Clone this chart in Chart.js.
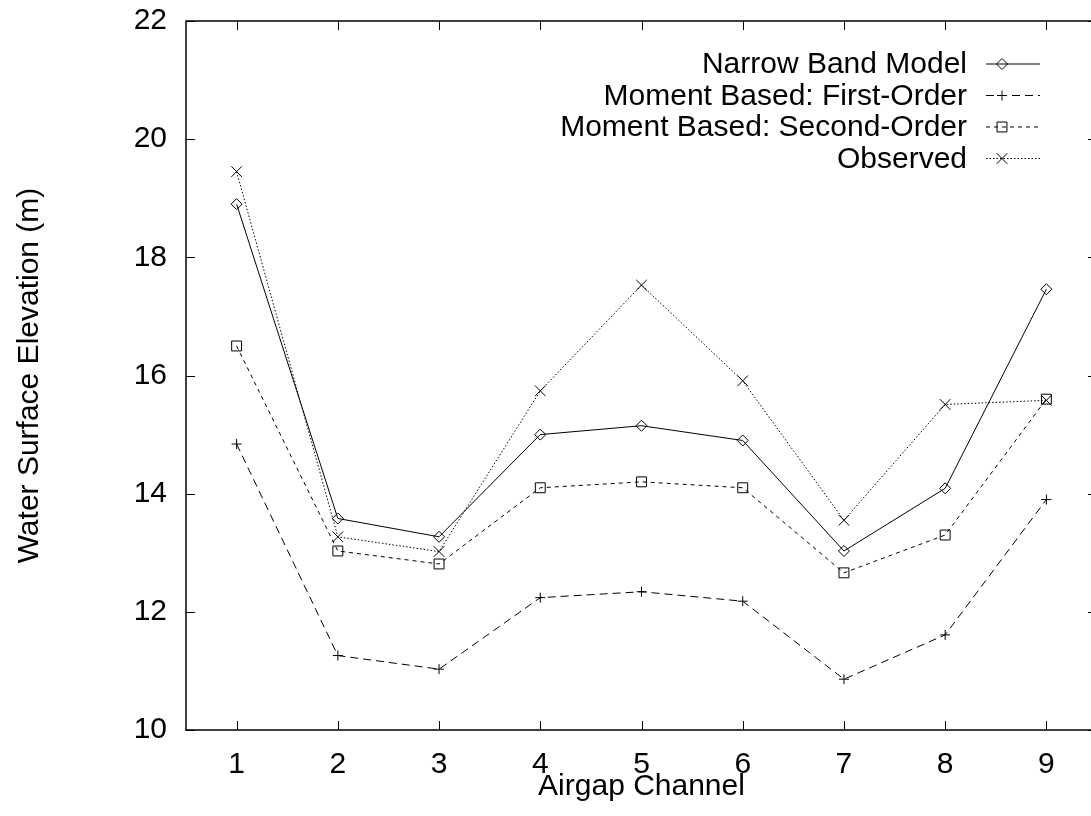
<!DOCTYPE html>
<html>
<head>
<meta charset="utf-8">
<script src="https://cdn.jsdelivr.net/npm/chart.js@4"></script>
<style>
  html, body { margin: 0; padding: 0; background: #fff; overflow: hidden; }
  #wrap { width: 1091px; height: 816px; overflow: hidden; position: relative; }
  #chart { position: absolute; left: 0; top: 0; }
</style>
</head>
<body>
<div id="wrap"><canvas id="chart" width="1100" height="816"></canvas></div>
<script>
// dados
const channels = [1, 2, 3, 4, 5, 6, 7, 8, 9];
const narrowBand = [18.90, 13.58, 13.27, 15.00, 15.15, 14.90, 13.03, 14.09, 17.46];
const firstOrder = [14.84, 11.26, 11.03, 12.24, 12.34, 12.18, 10.86, 11.61, 13.90];
const secondOrder = [16.50, 13.03, 12.81, 14.10, 14.20, 14.10, 12.66, 13.30, 15.60];
const observed = [19.45, 13.27, 13.02, 15.74, 17.53, 15.91, 13.55, 15.51, 15.58];
const xTicks = [1, 2, 3, 4, 5, 6, 7, 8, 9];
const yTicks = [10, 12, 14, 16, 18, 20, 22];
const seriesNames = ['Narrow Band Model', 'Moment Based: First-Order', 'Moment Based: Second-Order', 'Observed'];

const FONT = '"Liberation Sans", Arial, Helvetica, sans-serif';

function pts(values) {
    return channels.map((c, i) => ({ x: c, y: values[i] }));
}

function serie(label, values, dash, style, radius) {
    return {
        label: label,
        data: pts(values),
        borderColor: '#000',
        borderWidth: 1,
        borderDash: dash,
        fill: false,
        tension: 0,
        pointStyle: style,
        pointRadius: radius,
        pointBorderColor: '#000',
        pointBackgroundColor: 'rgba(0,0,0,0)',
        pointBorderWidth: 1
    };
}

// zera o padding automático que o Chart.js coloca por causa dos rótulos
function noPad(s) {
    s.paddingTop = 0;
    s.paddingBottom = 0;
    s.paddingLeft = 0;
    s.paddingRight = 0;
}

// moldura com marcas de escala para dentro (estilo gnuplot)
const framePlugin = {
    id: 'frame',
    afterDraw(chart) {
        const ctx = chart.ctx;
        const a = chart.chartArea;
        const xs = chart.scales.x, ys = chart.scales.y;
        ctx.save();
        ctx.setLineDash([]);
        ctx.strokeStyle = '#000';
        ctx.lineWidth = 1;
        ctx.beginPath();
        xTicks.forEach(v => {
            const px = Math.round(xs.getPixelForValue(v)) + 0.5;
            ctx.moveTo(px, a.bottom); ctx.lineTo(px, a.bottom - 9);
            ctx.moveTo(px, a.top); ctx.lineTo(px, a.top + 9);
        });
        yTicks.forEach(v => {
            const py = Math.round(ys.getPixelForValue(v)) + 0.5;
            ctx.moveTo(a.left, py); ctx.lineTo(a.left + 9, py);
            ctx.moveTo(a.right, py); ctx.lineTo(a.right - 9, py);
        });
        ctx.stroke();
        ctx.lineWidth = 1.5;
        ctx.strokeRect(a.left, a.top, a.right - a.left, a.bottom - a.top);
        ctx.restore();
    }
};

// legenda dentro do gráfico, texto à esquerda da amostra
const legendPlugin = {
    id: 'insideLegend',
    afterDraw(chart) {
        const ctx = chart.ctx;
        const rows = [64, 95.5, 127, 158.5];
        ctx.save();
        ctx.font = '30px ' + FONT;
        ctx.textAlign = 'right';
        ctx.textBaseline = 'middle';
        ctx.fillStyle = '#000';
        chart.data.datasets.forEach((ds, i) => {
            const y = rows[i];
            ctx.fillText(seriesNames[i], 967, y + 1);
            ctx.strokeStyle = '#000';
            ctx.lineWidth = 1;
            ctx.setLineDash(ds.borderDash);
            ctx.beginPath();
            ctx.moveTo(986, y);
            ctx.lineTo(1040, y);
            ctx.stroke();
            ctx.setLineDash([]);
            ctx.fillStyle = 'rgba(0,0,0,0)';
            Chart.helpers.drawPoint(ctx, {
                pointStyle: ds.pointStyle,
                radius: ds.pointRadius,
                rotation: 0,
                borderWidth: 1
            }, 1002, y);
            ctx.fillStyle = '#000';
        });
        ctx.restore();
    }
};

const ctx = document.getElementById('chart').getContext('2d');
const chart = new Chart(ctx, {
    type: 'line',
    data: {
        datasets: [
            serie(seriesNames[0], narrowBand, [], 'rectRot', 5.5),
            serie(seriesNames[1], firstOrder, [8, 5], 'cross', 5),
            serie(seriesNames[2], secondOrder, [4, 4], 'rect', 7),
            serie(seriesNames[3], observed, [1.5, 2], 'crossRot', 7.5)
        ]
    },
    options: {
        responsive: false,
        animation: false,
        devicePixelRatio: 1,
        layout: { autoPadding: false, padding: { left: 0, right: 3, top: 21, bottom: 0 } },
        plugins: {
            legend: { display: false },
            tooltip: { enabled: false }
        },
        scales: {
            x: {
                type: 'linear',
                min: 0.5,
                max: 9.5,
                afterBuildTicks: s => { s.ticks = xTicks.map(v => ({ value: v })); },
                afterFit: s => { s.height = 86; noPad(s); },
                grid: { display: false, drawTicks: false },
                border: { display: false },
                ticks: {
                    padding: 20,
                    color: '#000',
                    font: { family: FONT, size: 30, lineHeight: 1 },
                    maxRotation: 0
                },
                title: {
                    display: true,
                    text: 'Airgap Channel',
                    color: '#000',
                    font: { family: FONT, size: 30, lineHeight: 1 },
                    padding: { top: 0, bottom: 14 }
                }
            },
            y: {
                type: 'linear',
                min: 10,
                max: 22,
                afterBuildTicks: s => { s.ticks = yTicks.map(v => ({ value: v })); },
                afterFit: s => { s.width = 186; noPad(s); },
                grid: { display: false, drawTicks: false },
                border: { display: false },
                ticks: {
                    padding: 19,
                    color: '#000',
                    font: { family: FONT, size: 30, lineHeight: 1 }
                },
                title: {
                    display: true,
                    text: 'Water Surface Elevation (m)',
                    color: '#000',
                    font: { family: FONT, size: 30, lineHeight: 1 },
                    padding: { top: 15, bottom: 0 }
                }
            }
        }
    },
    plugins: [framePlugin, legendPlugin]
});
</script>
</body>
</html>
